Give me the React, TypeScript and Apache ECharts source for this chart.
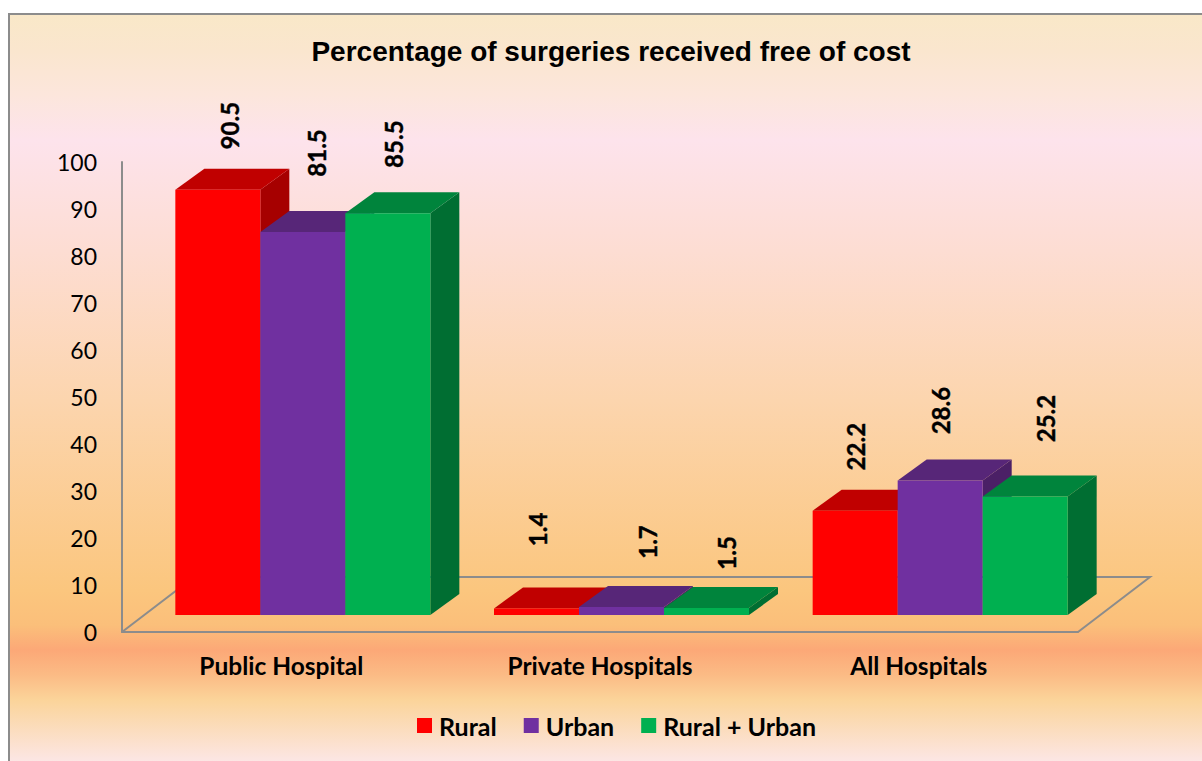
import React, { useEffect, useRef } from "react";
import * as echarts from "echarts";

const categories = ["Public Hospital", "Private Hospitals", "All Hospitals"];
const rural = [90.5, 1.4, 22.2];
const urban = [81.5, 1.7, 28.6];
const ruralUrban = [85.5, 1.5, 25.2];
const yTicks = { min: 0, max: 100, interval: 10 };
const titleText = "Percentage of surgeries received free of cost";

// Layout of the pseudo-3D drawing (pixels)
const BAR_W = 85;
const GROUP_SHIFT = 21.5;
const LIFT = 17;
const DEPTH_X = 29;
const DEPTH_Y = -21;
const FLOOR_X = 72;
const FLOOR_Y = -55;

const palettes = [
  { front: "#FF0000", top: "#C00000", side: "#A60000" },
  { front: "#7030A0", top: "#572678", side: "#4B2066" },
  { front: "#00B050", top: "#00843C", side: "#006E32" },
];

// Hand placement of each value label relative to its bar's front-top centre
const labelNudges = [
  [[11.5, -64], [0.5, -79], [0, -64]],
  [[13.5, -79], [26, -65], [0, -70]],
  [[6, -69], [20, -55], [20.5, -78]],
];

const AXIS_GREY = "#8C8C8C";
const LABEL_FONT = "Lato, 'Open Sans', sans-serif";

function barRenderer(seriesIdx: number) {
  const pal = palettes[seriesIdx];
  return (params: any, api: any) => {
    const cat = api.value(0);
    const val = api.value(1);
    const [cx, topRaw] = api.coord([cat, val]);
    const [, baseRaw] = api.coord([cat, 0]);
    const base = baseRaw - LIFT;
    const top = topRaw - LIFT;
    const x0 = cx + GROUP_SHIFT - 1.5 * BAR_W + seriesIdx * BAR_W;
    const x1 = x0 + BAR_W;
    const nudge = labelNudges[seriesIdx][cat];
    return {
      type: "group",
      children: [
        {
          type: "polygon",
          shape: { points: [[x1, top], [x1 + DEPTH_X, top + DEPTH_Y], [x1 + DEPTH_X, base + DEPTH_Y], [x1, base]] },
          style: { fill: pal.side },
        },
        {
          type: "polygon",
          shape: { points: [[x0, top], [x0 + DEPTH_X, top + DEPTH_Y], [x1 + DEPTH_X, top + DEPTH_Y], [x1, top]] },
          style: { fill: pal.top },
        },
        {
          type: "rect",
          shape: { x: x0, y: top, width: BAR_W, height: base - top },
          style: { fill: pal.front },
        },
        {
          type: "text",
          x: (x0 + x1) / 2 + nudge[0],
          y: top + nudge[1],
          rotation: Math.PI / 2,
          style: {
            text: val.toFixed(1),
            fontFamily: LABEL_FONT,
            fontWeight: 700,
            fontSize: 24,
            fill: "#000",
            stroke: "#000",
            lineWidth: 0.4,
            textAlign: "center",
            textVerticalAlign: "middle",
          },
        },
      ],
    };
  };
}

function floorRenderer(params: any, api: any) {
  const [, y0] = api.coord([0, 0]);
  const left = params.coordSys.x;
  const right = left + params.coordSys.width;
  return {
    type: "polyline",
    shape: {
      points: [
        [left, y0],
        [left + FLOOR_X, y0 + FLOOR_Y],
        [right + FLOOR_X, y0 + FLOOR_Y],
        [right, y0],
      ],
    },
    style: { fill: "none", stroke: AXIS_GREY, lineWidth: 2 },
  };
}

function toData(values: number[]) {
  return values.map((v, i) => [i, v]);
}

export default function App() {
  const ref = useRef<HTMLDivElement>(null);
  useEffect(() => {
    document.body.style.margin = "0";
    document.body.style.background = "#fff";
    const chart = echarts.init(ref.current!, undefined, { renderer: "svg" });
    const top = 14;
    const h = 760;
    const stop = (y: number, color: string) => ({ offset: (y - top) / h, color });
    chart.setOption({
      animation: false,
      title: {
        text: titleText,
        left: 606,
        top: 32,
        textAlign: "center",
        textStyle: { fontFamily: "'Liberation Sans', Arial, sans-serif", fontWeight: "bold", fontSize: 28, color: "#000" },
      },
      legend: {
        left: 412,
        top: 708,
        selectedMode: false,
        icon: "rect",
        itemWidth: 15,
        itemHeight: 15,
        itemGap: 27,
        data: ["Rural", "Urban", "Rural + Urban"],
        textStyle: { fontFamily: LABEL_FONT, fontWeight: "bold", fontSize: 25, color: "#000", padding: [0, 0, 0, 2] },
      },
      grid: { left: 122, top: 162, width: 956, height: 470, containLabel: false },
      xAxis: {
        type: "category",
        data: categories,
        axisLine: { show: true, lineStyle: { color: AXIS_GREY, width: 2 } },
        axisTick: { show: false },
        splitLine: { show: false },
        axisLabel: { margin: 21, fontFamily: LABEL_FONT, fontWeight: "bold", fontSize: 24.5, color: "#000", interval: 0 },
      },
      yAxis: {
        type: "value",
        min: yTicks.min,
        max: yTicks.max,
        interval: yTicks.interval,
        axisLine: { show: true, lineStyle: { color: AXIS_GREY, width: 2 } },
        axisTick: { show: false },
        splitLine: { show: false },
        axisLabel: { margin: 25, fontFamily: LABEL_FONT, fontSize: 23, color: "#000" },
      },
      graphic: {
        elements: [
          {
            type: "rect",
            z: -10,
            silent: true,
            shape: { x: 9, y: top, width: 1300, height: h },
            style: {
              stroke: AXIS_GREY,
              lineWidth: 2,
              fill: new echarts.graphic.LinearGradient(0, 0, 0, 1, [
                stop(14, "#F9E8C8"),
                stop(50, "#FAE6CE"),
                stop(95, "#FCE6DC"),
                stop(140, "#FDE3EC"),
                stop(250, "#FDDDD3"),
                stop(400, "#FCD5AE"),
                stop(590, "#FBC67E"),
                stop(625, "#FBBF7A"),
                stop(650, "#FCA877"),
                stop(675, "#FBBB85"),
                stop(700, "#FBD49A"),
                stop(761, "#FCE6E4"),
              ]),
            },
          },
        ],
      },
      series: [
        { type: "custom", name: "floor", silent: true, clip: false, z: 1, data: [[0, 0]], encode: { x: 0, y: 1 }, renderItem: floorRenderer },
        { type: "custom", name: "Rural", clip: false, z: 2, itemStyle: { color: palettes[0].front }, data: toData(rural), encode: { x: 0, y: 1 }, renderItem: barRenderer(0) },
        { type: "custom", name: "Urban", clip: false, z: 3, itemStyle: { color: palettes[1].front }, data: toData(urban), encode: { x: 0, y: 1 }, renderItem: barRenderer(1) },
        { type: "custom", name: "Rural + Urban", clip: false, z: 4, itemStyle: { color: palettes[2].front }, data: toData(ruralUrban), encode: { x: 0, y: 1 }, renderItem: barRenderer(2) },
      ],
    });
    return () => chart.dispose();
  }, []);
  return <div ref={ref} style={{ width: 1202, height: 761, display: "block" }} />;
}
